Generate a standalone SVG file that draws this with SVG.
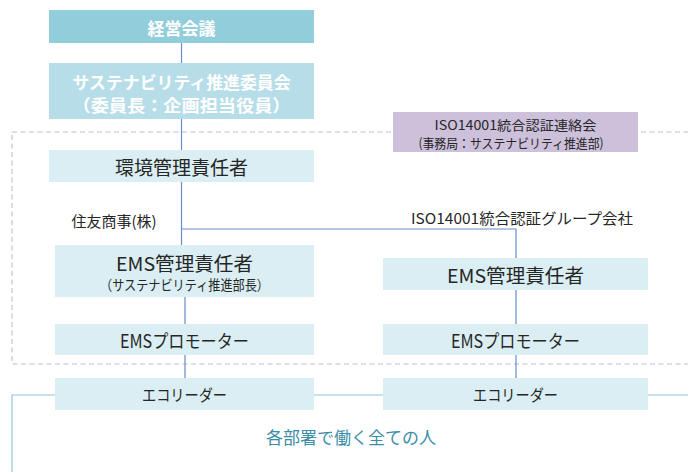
<svg xmlns="http://www.w3.org/2000/svg" width="688" height="472" viewBox="0 0 688 472">
<style>
text{font-family:"Meiryo","Noto Sans CJK JP","Noto Sans",sans-serif;dominant-baseline:central;text-anchor:middle;fill:#262626}
.w{fill:#fff;font-weight:bold;font-size:17px}
.n{fill:#DAEEF3}
.l{stroke:#6A8CC7;stroke-width:1.2;fill:none}
.t{stroke:#8CC8D8;stroke-width:1.2;fill:none}
</style>
<rect x="12" y="132" width="690" height="232" fill="none" stroke="#D8D0E4" stroke-width="1.6" stroke-dasharray="5 3.5"/>
<g id="connectors">
<path class="l" d="M181.5 43V63M181.5 119V150M181.5 182V245M181.5 229H516V258M516 290V324M516 355V378M185 297V324M185 355V378"/>
<path class="t" d="M12 472V395H55M314 395H383M648 395H688"/>
</g>
<g id="n1"><rect x="49" y="10" width="265" height="33" fill="#92CDDC"/><text class="w" x="181.5" y="27">経営会議</text></g>
<g id="n2"><rect x="49" y="63" width="265" height="56" fill="#B7DEE8"/><text class="w" x="181.5" y="81" textLength="218" lengthAdjust="spacingAndGlyphs">サステナビリティ推進委員会</text><text class="w" x="181.5" y="104" textLength="218" lengthAdjust="spacingAndGlyphs">（委員長：企画担当役員）</text></g>
<g id="n3"><rect x="393" y="112" width="245" height="40" fill="#CCC0DA"/><text x="515.5" y="124" font-size="13" textLength="162" lengthAdjust="spacingAndGlyphs">ISO14001統合認証連絡会</text><text x="511" y="142" font-size="13" textLength="185" lengthAdjust="spacingAndGlyphs">(事務局：サステナビリティ推進部)</text></g>
<g id="n4"><rect class="n" x="49" y="150" width="265" height="32"/><text x="181.5" y="166" font-size="19">環境管理責任者</text></g>
<g id="lbl1"><text x="114" y="220" font-size="15">住友商事(株)</text></g>
<g id="lbl2"><text x="522" y="217" font-size="15" textLength="222" lengthAdjust="spacingAndGlyphs">ISO14001統合認証グループ会社</text></g>
<g id="n5"><rect class="n" x="55" y="245" width="259" height="52"/><text x="184.5" y="262" font-size="19" textLength="137" lengthAdjust="spacingAndGlyphs">EMS管理責任者</text><text x="184.5" y="284" font-size="14" textLength="169" lengthAdjust="spacingAndGlyphs">（サステナビリティ推進部長）</text></g>
<g id="n6"><rect class="n" x="55" y="324" width="259" height="31"/><text x="184.5" y="340" font-size="18" textLength="129" lengthAdjust="spacingAndGlyphs">EMSプロモーター</text></g>
<g id="n7"><rect class="n" x="55" y="378" width="259" height="32"/><text x="184.5" y="394" font-size="16" textLength="85" lengthAdjust="spacingAndGlyphs">エコリーダー</text></g>
<g id="n8"><rect class="n" x="383" y="258" width="265" height="32"/><text x="515.5" y="274" font-size="19" textLength="137" lengthAdjust="spacingAndGlyphs">EMS管理責任者</text></g>
<g id="n9"><rect class="n" x="383" y="324" width="265" height="31"/><text x="515.5" y="340" font-size="18" textLength="129" lengthAdjust="spacingAndGlyphs">EMSプロモーター</text></g>
<g id="n10"><rect class="n" x="383" y="378" width="265" height="32"/><text x="515.5" y="394" font-size="16" textLength="85" lengthAdjust="spacingAndGlyphs">エコリーダー</text></g>
<g id="lbl3"><text x="351" y="436" font-size="17" style="fill:#3A8EA5">各部署で働く全ての人</text></g>
</svg>
